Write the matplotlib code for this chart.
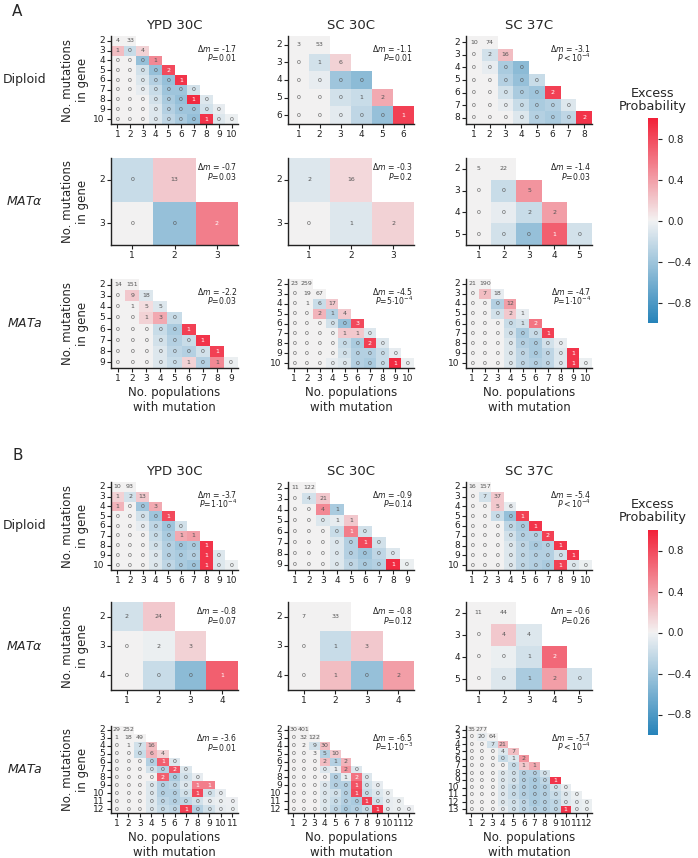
import numpy as np
import matplotlib
matplotlib.use("Agg")
import matplotlib.pyplot as plt
import seaborn as sns
from matplotlib.cm import ScalarMappable
from matplotlib.colors import Normalize

sns.set_style("ticks")
plt.rcParams["font.family"] = ["DejaVu Sans"]

# ---------------- data (rows = mutations in gene 2..M, cols = populations 1..K) -------------
# Panel A
A_DIP_YPD_N = [[4, 33], [1, 0, 4], [0, 0, 0, 1], [0, 0, 0, 0, 2], [0, 0, 0, 0, 0, 1],
               [0, 0, 0, 0, 0, 0, 0], [0, 0, 0, 0, 0, 0, 1, 0], [0, 0, 0, 0, 0, 0, 0, 0, 0],
               [0, 0, 0, 0, 0, 0, 0, 1, 0, 0]]
A_DIP_YPD_X = [[0, 0], [.25, -.2, .15], [0, 0, -.45, .5], [0, 0, -.15, -.45, .8],
               [0, 0, -.1, -.3, -.45, .9], [0, 0, -.05, -.2, -.4, -.4, -.15],
               [0, 0, 0, -.15, -.35, -.45, .95, -.1], [0, 0, 0, -.1, -.3, -.4, -.4, -.15, -.05],
               [0, 0, 0, -.1, -.25, -.35, -.45, .9, -.1, -.03]]
A_DIP_SC30_N = [[3, 53], [0, 1, 6], [0, 0, 0, 0], [0, 0, 0, 1, 2], [0, 0, 0, 0, 0, 1]]
A_DIP_SC30_X = [[0, 0], [0, -.15, .15], [0, -.05, -.4, -.5], [0, 0, -.15, -.2, .35],
                [0, 0, -.07, -.25, -.45, .85]]
A_DIP_SC37_N = [[10, 74], [0, 2, 16], [0, 0, 0, 0], [0, 0, 0, 0, 0], [0, 0, 0, 0, 0, 2],
                [0, 0, 0, 0, 0, 0, 0], [0, 0, 0, 0, 0, 0, 0, 2]]
A_DIP_SC37_X = [[0, 0], [0, -.15, .25], [0, -.05, -.35, -.5], [0, 0, -.3, -.45, -.2],
                [0, 0, -.15, -.35, -.4, .85], [0, 0, -.05, -.2, -.35, -.3, -.1],
                [0, 0, 0, -.1, -.3, -.35, -.25, .9]]

A_ALP_YPD_N = [[0, 13], [0, 0, 2]]
A_ALP_YPD_X = [[-.2, .2], [0, -.45, .55]]
A_ALP_SC30_N = [[2, 16], [0, 1, 2]]
A_ALP_SC30_X = [[-.1, .12], [0, -.1, .15]]
A_ALP_SC37_N = [[5, 22], [0, 0, 5], [0, 0, 2, 2], [0, 0, 0, 1, 0]]
A_ALP_SC37_X = [[0, 0], [0, -.2, .45], [0, -.05, -.2, .4], [0, -.15, -.45, .7, -.15]]

A_MTA_YPD_N = [[14, 151], [0, 9, 18], [0, 1, 5, 5], [0, 0, 1, 3, 0], [0, 0, 0, 0, 0, 1],
               [0, 0, 0, 0, 0, 0, 1], [0, 0, 0, 0, 0, 0, 0, 1], [0, 0, 0, 0, 0, 1, 0, 1, 0]]
A_MTA_YPD_X = [[0, 0], [0, .2, -.1], [0, 0, .1, -.1], [0, 0, .15, .35, -.2],
               [0, 0, 0, -.2, -.35, .85], [0, 0, 0, -.15, -.3, -.2, .9],
               [0, 0, 0, -.1, -.25, -.3, -.15, .85], [0, 0, 0, -.1, -.2, .15, -.3, .5, -.03]]
A_MTA_SC30_N = [[23, 259], [0, 19, 67], [0, 1, 6, 17], [0, 0, 2, 1, 4], [0, 0, 0, 0, 0, 3],
                [0, 0, 0, 0, 1, 1, 0], [0, 0, 0, 0, 0, 0, 2, 0], [0, 0, 0, 0, 0, 0, 0, 0, 0],
                [0, 0, 0, 0, 0, 0, 0, 0, 1, 0]]
A_MTA_SC30_X = [[0, 0], [0, 0, 0], [0, 0, -.2, .2], [0, 0, .3, -.3, .2],
                [0, 0, 0, -.15, -.45, .8], [0, 0, 0, 0, .2, .2, -.1],
                [0, 0, 0, 0, -.2, -.35, .85, -.1], [0, 0, 0, 0, -.15, -.3, -.3, -.2, -.05],
                [0, 0, 0, -.05, -.1, -.3, -.35, -.2, .95, -.03]]
A_MTA_SC37_N = [[21, 190], [0, 7, 18], [0, 0, 0, 12], [0, 0, 0, 2, 1], [0, 0, 0, 0, 1, 2],
                [0, 0, 0, 0, 0, 0, 1], [0, 0, 0, 0, 0, 0, 0, 0], [0, 0, 0, 0, 0, 0, 0, 0, 1],
                [0, 0, 0, 0, 0, 0, 0, 0, 1, 0]]
A_MTA_SC37_X = [[0, 0], [0, .25, -.05], [0, 0, -.3, .4], [0, 0, -.15, .2, -.05],
                [0, 0, 0, -.2, -.15, .6], [0, 0, 0, -.15, -.35, -.2, .85],
                [0, 0, 0, -.1, -.3, -.35, -.15, -.05], [0, 0, 0, -.1, -.25, -.35, -.25, -.1, .9],
                [0, 0, 0, -.1, -.25, -.3, -.25, -.1, .9, -.03]]

# Panel B
B_DIP_YPD_N = [[10, 93], [1, 2, 13], [1, 0, 0, 3], [0, 0, 0, 0, 1], [0, 0, 0, 0, 0, 0],
               [0, 0, 0, 0, 0, 1, 1], [0, 0, 0, 0, 0, 0, 0, 1], [0, 0, 0, 0, 0, 0, 0, 1, 0],
               [0, 0, 0, 0, 0, 0, 0, 1, 0, 0]]
B_DIP_YPD_X = [[0, 0], [.15, -.15, .2], [.3, 0, -.4, .35], [0, 0, -.15, -.4, .8],
               [0, 0, -.05, -.25, -.4, -.15], [0, 0, 0, -.2, -.35, .35, .4],
               [0, 0, 0, -.15, -.3, -.4, -.35, .9], [0, 0, 0, -.1, -.3, -.35, -.3, .9, -.1],
               [0, 0, 0, -.1, -.25, -.35, -.4, .9, -.1, -.03]]
B_DIP_SC30_N = [[11, 122], [0, 4, 21], [0, 0, 4, 1], [0, 0, 0, 1, 1], [0, 0, 0, 0, 1, 0],
                [0, 0, 0, 0, 0, 1, 0], [0, 0, 0, 0, 0, 0, 0, 0], [0, 0, 0, 0, 0, 0, 0, 1, 0]]
B_DIP_SC30_X = [[0, 0], [0, -.15, .2], [0, 0, .5, -.35], [0, 0, -.1, -.05, .2],
                [0, 0, 0, -.2, .55, -.15], [0, 0, 0, -.1, -.3, .8, -.15],
                [0, 0, 0, -.1, -.3, -.4, -.25, -.1], [0, 0, 0, -.1, -.25, -.35, -.3, .95, -.03]]
B_DIP_SC37_N = [[16, 157], [0, 7, 37], [0, 0, 5, 6], [0, 0, 0, 0, 1], [0, 0, 0, 0, 0, 1],
                [0, 0, 0, 0, 0, 0, 2], [0, 0, 0, 0, 0, 0, 0, 1], [0, 0, 0, 0, 0, 0, 0, 0, 1],
                [0, 0, 0, 0, 0, 0, 0, 1, 0, 0]]
B_DIP_SC37_X = [[0, 0], [0, -.15, .2], [0, 0, .2, -.05], [0, 0, -.2, -.45, .85],
                [0, 0, 0, -.25, -.35, .9], [0, 0, 0, -.15, -.3, -.3, .85],
                [0, 0, 0, -.1, -.25, -.35, -.3, .9], [0, 0, 0, -.1, -.25, -.3, -.3, -.15, .9],
                [0, 0, 0, -.1, -.25, -.3, -.35, .85, -.1, -.03]]

B_ALP_YPD_N = [[2, 24], [0, 2, 3], [0, 0, 0, 1]]
B_ALP_YPD_X = [[-.15, .2], [0, -.03, .15], [0, -.2, -.5, .7]]
B_ALP_SC30_N = [[7, 33], [0, 1, 3], [0, 1, 0, 2]]
B_ALP_SC30_X = [[0, 0], [0, -.2, .2], [0, .25, -.45, .4]]
B_ALP_SC37_N = [[11, 44], [0, 4, 4], [0, 0, 1, 2], [0, 0, 1, 2, 0]]
B_ALP_SC37_X = [[0, 0], [0, .2, -.1], [0, -.03, -.15, .65], [0, -.1, -.35, .4, -.15]]

B_MTA_YPD_N = [[29, 252], [1, 18, 49], [0, 1, 7, 16], [0, 0, 0, 6, 4], [0, 0, 0, 0, 1, 0],
               [0, 0, 0, 0, 0, 2, 0], [0, 0, 0, 0, 2, 0, 0, 0], [0, 0, 0, 0, 0, 0, 0, 1, 1],
               [0, 0, 0, 0, 0, 0, 0, 1, 0, 0], [0, 0, 0, 0, 0, 0, 0, 0, 0, 0, 0],
               [0, 0, 0, 0, 0, 0, 1, 0, 0, 0, 0]]
B_MTA_YPD_X = [[0, 0], [0, 0, 0], [0, 0, -.15, .25], [0, 0, -.2, .3, .15],
               [0, 0, 0, -.3, .7, -.1], [0, 0, 0, -.15, -.3, .75, -.1],
               [0, 0, 0, 0, .7, -.35, -.15, -.05], [0, 0, 0, -.1, -.3, -.25, -.1, .55, .55],
               [0, 0, 0, -.1, -.3, -.3, -.15, .8, -.15, -.05],
               [0, 0, 0, -.1, -.25, -.3, -.25, -.15, -.05, -.03, -.02],
               [0, 0, 0, -.1, -.2, -.25, .85, -.3, -.15, -.05, -.03]]
B_MTA_SC30_N = [[30, 401], [0, 32, 122], [0, 2, 9, 30], [0, 0, 3, 5, 10], [0, 0, 0, 2, 1, 2],
                [0, 0, 0, 0, 1, 2, 0], [0, 0, 0, 0, 0, 1, 2, 0], [0, 0, 0, 0, 0, 0, 1, 0, 0],
                [0, 0, 0, 0, 0, 0, 1, 0, 0, 0], [0, 0, 0, 0, 0, 0, 0, 1, 0, 0, 0],
                [0, 0, 0, 0, 0, 0, 0, 0, 1, 0, 0, 0]]
B_MTA_SC30_X = [[0, 0], [0, 0, 0], [0, 0, -.15, .25], [0, 0, 0, -.3, .2],
                [0, 0, 0, .25, -.3, .3], [0, 0, 0, -.1, -.05, .45, -.1],
                [0, 0, 0, 0, -.3, -.05, .6, -.1], [0, 0, 0, -.1, -.3, -.3, .75, -.15, -.05],
                [0, 0, 0, -.1, -.15, -.3, .8, -.2, -.1, -.03],
                [0, 0, 0, -.1, -.2, -.3, -.35, .85, -.15, -.05, -.03],
                [0, 0, 0, -.1, -.25, -.35, -.3, -.2, .9, -.05, -.03, -.02]]
B_MTA_SC37_N = [[35, 277], [0, 20, 64], [0, 0, 7, 21], [0, 0, 0, 4, 7], [0, 0, 0, 0, 1, 2],
                [0, 0, 0, 0, 0, 1, 1], [0, 0, 0, 0, 0, 0, 0, 0], [0, 0, 0, 0, 0, 0, 0, 0, 1],
                [0, 0, 0, 0, 0, 0, 0, 0, 0, 0], [0, 0, 0, 0, 0, 0, 0, 0, 0, 0, 0],
                [0, 0, 0, 0, 0, 0, 0, 0, 0, 0, 0, 0], [0, 0, 0, 0, 0, 0, 0, 0, 0, 1, 0, 0]]
B_MTA_SC37_X = [[0, 0], [0, -.05, 0], [0, 0, -.15, .3], [0, 0, 0, -.1, .25],
                [0, 0, 0, -.2, -.1, .45], [0, 0, 0, 0, -.2, .2, .35],
                [0, 0, 0, -.1, -.15, -.3, -.3, -.15], [0, 0, 0, -.1, -.15, -.3, -.35, -.25, .9],
                [0, 0, 0, -.1, -.2, -.3, -.35, -.3, -.15, -.05],
                [0, 0, 0, -.1, -.2, -.3, -.35, -.3, -.2, -.1, -.03],
                [0, 0, 0, -.1, -.15, -.25, -.35, -.3, -.25, -.1, -.05, -.03],
                [0, 0, 0, -.05, -.15, -.25, -.3, -.3, -.25, .9, -.05, -.03]]

A_DM = [["-1.7", "-1.1", "-3.1"], ["-0.7", "-0.3", "-1.4"], ["-2.2", "-4.5", "-4.7"]]
A_P = [[r"$P$=0.01", r"$P$=0.01", r"$P < 10^{-4}$"],
       [r"$P$=0.03", r"$P$=0.2", r"$P$=0.03"],
       [r"$P$=0.03", r"$P$=5$\cdot$10$^{-4}$", r"$P$=1$\cdot$10$^{-4}$"]]
B_DM = [["-3.7", "-0.9", "-5.4"], ["-0.8", "-0.8", "-0.6"], ["-3.6", "-6.5", "-5.7"]]
B_P = [[r"$P$=1$\cdot$10$^{-4}$", r"$P$=0.14", r"$P < 10^{-4}$"],
       [r"$P$=0.07", r"$P$=0.12", r"$P$=0.26"],
       [r"$P$=0.01", r"$P$=1$\cdot$10$^{-3}$", r"$P < 10^{-4}$"]]

CONDITIONS = ["YPD 30C", "SC 30C", "SC 37C"]
STRAINS = ["Diploid", r"$MAT\alpha$", r"$MATa$"]
CBAR_TICKS = [-0.8, -0.4, 0.0, 0.4, 0.8]

A_N = [[A_DIP_YPD_N, A_DIP_SC30_N, A_DIP_SC37_N],
       [A_ALP_YPD_N, A_ALP_SC30_N, A_ALP_SC37_N],
       [A_MTA_YPD_N, A_MTA_SC30_N, A_MTA_SC37_N]]
A_X = [[A_DIP_YPD_X, A_DIP_SC30_X, A_DIP_SC37_X],
       [A_ALP_YPD_X, A_ALP_SC30_X, A_ALP_SC37_X],
       [A_MTA_YPD_X, A_MTA_SC30_X, A_MTA_SC37_X]]
B_N = [[B_DIP_YPD_N, B_DIP_SC30_N, B_DIP_SC37_N],
       [B_ALP_YPD_N, B_ALP_SC30_N, B_ALP_SC37_N],
       [B_MTA_YPD_N, B_MTA_SC30_N, B_MTA_SC37_N]]
B_X = [[B_DIP_YPD_X, B_DIP_SC30_X, B_DIP_SC37_X],
       [B_ALP_YPD_X, B_ALP_SC30_X, B_ALP_SC37_X],
       [B_MTA_YPD_X, B_MTA_SC30_X, B_MTA_SC37_X]]

# ---------------- layout ----------------
W, H = 698, 858
fig = plt.figure(figsize=(W / 100, H / 100), dpi=100)
cmap = sns.diverging_palette(240, 10, s=92, l=52, as_cmap=True)

COLS = [(111, 238), (288, 414), (466, 592)]
ROWS_A = [(36, 124), (158, 245), (279, 368)]
ROWS_B = [(482, 570), (602, 690), (726, 813)]


def rect(x0, y0, x1, y1):
    return [x0 / W, 1 - y1 / H, (x1 - x0) / W, (y1 - y0) / H]


def ragged(rows, fill):
    K = max(len(r) for r in rows)
    M = np.full((len(rows), K), fill, dtype=float)
    for i, r in enumerate(rows):
        M[i, :len(r)] = r
    return M


def draw_panel(N, X, DM, P, rows_px, label, label_y):
    fig.text(12 / W, 1 - label_y / H, label, fontsize=11, ha="left", va="center")
    for r in range(3):
        for c in range(3):
            y0, y1 = rows_px[r]
            x0, x1 = COLS[c]
            ax = fig.add_axes(rect(x0, y0, x1, y1))
            vals = ragged(X[r][c], np.nan)
            cnt = ragged(N[r][c], 0).astype(int)
            nr, K = vals.shape
            sns.heatmap(vals, mask=np.isnan(vals), annot=cnt, fmt="d", cmap=cmap,
                        vmin=-1, vmax=1, cbar=False, ax=ax,
                        xticklabels=list(range(1, K + 1)),
                        yticklabels=list(range(2, nr + 2)),
                        annot_kws={"fontsize": 4.5})
            for t in ax.texts:
                tx, ty = t.get_position()
                v = vals[int(ty), int(tx)]
                t.set_color("white" if v > 0.5 else "#555555")
            for s in ["left", "bottom"]:
                ax.spines[s].set_visible(True)
                ax.spines[s].set_color("#222222")
                ax.spines[s].set_linewidth(1.0)
            ax.tick_params(axis="both", labelsize=6.5, length=3, width=0.8,
                           pad=1.5, colors="#222222", labelrotation=0)
            top = 9 if r == 1 else 12
            ax.text(0.99, 1 - top / 88, r"$\Delta m$ = " + DM[r][c], transform=ax.transAxes,
                    ha="right", va="center", fontsize=5.6, color="#222222")
            ax.text(0.99, 1 - (top + 9.5) / 88, P[r][c], transform=ax.transAxes,
                    ha="right", va="center", fontsize=5.6, color="#222222")
            if r == 0:
                ax.set_title(CONDITIONS[c], fontsize=9.5, pad=5)
            if r == 2:
                ax.set_xlabel("No. populations\nwith mutation", fontsize=8.5, labelpad=2)
            if c == 0:
                yc = (y0 + y1) / 2
                fig.text(75 / W, 1 - yc / H, "No. mutations\nin gene", rotation=90,
                         ha="center", va="center", fontsize=8.5)
                fig.text(25 / W, 1 - yc / H, STRAINS[r], ha="center", va="center",
                         fontsize=9)


draw_panel(A_N, A_X, A_DM, A_P, ROWS_A, "A", 12)
draw_panel(B_N, B_X, B_DM, B_P, ROWS_B, "B", 455)

norm = Normalize(vmin=-1, vmax=1)
for (ct, cb, ty) in [(118, 323, 100), (530, 735, 511)]:
    cax = fig.add_axes(rect(648, ct, 658, cb))
    cb_ = fig.colorbar(ScalarMappable(norm=norm, cmap=cmap), cax=cax, ticks=CBAR_TICKS)
    cb_.outline.set_visible(False)
    cax.tick_params(labelsize=7.5, length=3, width=0.8)
    fig.text(653 / W, 1 - ty / H, "Excess\nProbability", ha="center", va="center",
             fontsize=9.2, linespacing=1.0)

fig.savefig("out.png", dpi=100)
